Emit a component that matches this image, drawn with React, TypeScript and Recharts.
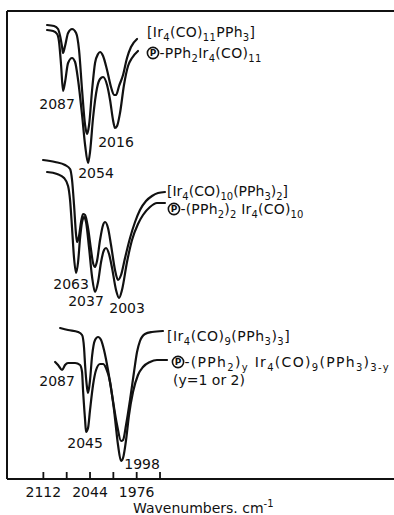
import React from 'react';
import { LineChart, Line, XAxis, YAxis, ReferenceLine, ReferenceDot } from 'recharts';

// ---- Data: wavenumber (cm^-1) and transmittance (arbitrary units, traces offset) ----
// [Ir4(CO)11PPh3]
const ir11Wn = [2106.6, 2096.4, 2090.6, 2087.6, 2084.7, 2083.3, 2080.4, 2076.0, 2070.2, 2064.3, 2060.0, 2055.6, 2051.2, 2048.3, 2045.4, 2041.0, 2036.7, 2032.3, 2029.4, 2025.0, 2019.2, 2013.4, 2009.0, 2006.1, 2001.7, 1995.9, 1990.1, 1984.3, 1975.5];
const ir11T = [454, 453, 450, 443, 432, 426, 433, 446, 450, 446, 429, 389, 354, 345, 354, 389, 416, 425, 427, 423, 409, 392, 384, 384, 393, 404, 421, 432, 440];
// (P)-PPh2Ir4(CO)11
const ir11PolyWn = [2106.6, 2097.8, 2092.0, 2089.1, 2086.2, 2083.3, 2080.4, 2076.0, 2070.2, 2065.8, 2061.4, 2055.6, 2051.2, 2046.9, 2044.0, 2039.6, 2033.8, 2029.4, 2025.0, 2019.2, 2014.8, 2010.5, 2007.6, 2004.6, 2000.3, 1994.5, 1988.6, 1982.8, 1974.1];
const ir11PolyT = [449, 448, 445, 437, 414, 388, 397, 416, 421, 417, 399, 364, 334, 316, 327, 361, 391, 400, 402, 394, 379, 359, 351, 353, 366, 394, 413, 421, 428];
// [Ir4(CO)10(PPh3)2]
const ir10Wn = [2112.4, 2094.9, 2080.4, 2073.1, 2070.2, 2067.3, 2064.3, 2062.9, 2060.0, 2057.1, 2054.2, 2051.2, 2046.9, 2042.5, 2039.6, 2036.7, 2033.8, 2029.4, 2025.0, 2022.1, 2017.8, 2013.4, 2007.6, 2003.2, 1998.8, 1993.0, 1985.7, 1978.4, 1971.2, 1962.4, 1953.7, 1944.9, 1934.8];
const ir10T = [319, 317, 314, 310, 299, 274, 244, 237, 243, 257, 265, 264, 251, 229, 216, 212, 218, 239, 254, 257, 251, 234, 209, 199, 204, 221, 241, 257, 269, 278, 283, 286, 287];
// (P)-(PPh2)2Ir4(CO)10
const ir10PolyWn = [2106.6, 2092.0, 2081.8, 2076.0, 2073.1, 2070.2, 2067.3, 2064.3, 2061.4, 2058.5, 2055.6, 2052.7, 2049.8, 2045.4, 2041.0, 2036.7, 2032.3, 2027.9, 2023.6, 2020.7, 2016.3, 2011.9, 2006.1, 2001.7, 1997.4, 1990.1, 1982.8, 1974.1, 1966.8, 1956.6, 1946.4, 1934.8];
const ir10PolyT = [307, 305, 301, 293, 279, 251, 221, 206, 217, 241, 257, 262, 257, 231, 202, 187, 197, 217, 229, 231, 225, 211, 189, 181, 189, 217, 239, 255, 264, 272, 276, 276];
// [Ir4(CO)9(PPh3)3]
const ir9Wn = [2087.6, 2076.0, 2061.4, 2055.6, 2052.7, 2051.2, 2048.3, 2046.9, 2044.0, 2041.0, 2036.7, 2032.3, 2027.9, 2023.6, 2017.8, 2011.9, 2004.6, 1998.8, 1995.9, 1991.5, 1985.7, 1979.9, 1975.5, 1971.2, 1963.9, 1953.7, 1937.7];
const ir9T = [151, 149, 147, 144, 131, 114, 91, 86, 99, 123, 139, 142, 139, 129, 109, 84, 54, 38, 39, 54, 79, 107, 127, 138, 145, 147, 148];
// (P)-(PPh2)yIr4(CO)9(PPh3)3-y
const ir9PolyWn = [2094.9, 2090.6, 2084.7, 2080.4, 2076.0, 2065.8, 2058.5, 2055.6, 2054.2, 2051.2, 2049.8, 2046.9, 2044.0, 2039.6, 2035.2, 2029.4, 2025.0, 2020.7, 2014.8, 2009.0, 2003.2, 1998.8, 1995.9, 1991.5, 1987.2, 1981.4, 1974.1, 1966.8, 1956.6, 1946.4, 1931.8];
const ir9PolyT = [117, 114, 109, 114, 116, 116, 114, 107, 89, 59, 47, 51, 69, 94, 109, 115, 115, 111, 97, 69, 34, 18, 21, 39, 64, 87, 104, 112, 117, 119, 119];

// Axis ticks
const axisTicks = [2112, 2078, 2044, 2010, 1976, 1942];
const labeledTicks = [2112, 2044, 1976];
const xDomain: [number, number] = [1601, 2165];
const yDomain: [number, number] = [0, 468];

// Peak labels (text, anchor wavenumber, anchor transmittance)
const peakText = ['2087', '2054', '2016', '2063', '2037', '2003', '2087', '2045', '1998'];
const peakWn = [2083.3, 2046.9, 2007.6, 2064.3, 2036.7, 2001.7, 2084.7, 2049.8, 1998.8];
const peakT = [388, 316, 351, 206, 187, 181, 109, 47, 18];

// Legend texts
type Seg = [string, 'n' | 'sub' | 'sup'];
const legend11: Seg[] = [['[Ir', 'n'], ['4', 'sub'], ['(CO)', 'n'], ['11', 'sub'], ['PPh', 'n'], ['3', 'sub'], [']', 'n']];
const legend11Poly: Seg[] = [['-PPh', 'n'], ['2', 'sub'], ['Ir', 'n'], ['4', 'sub'], ['(CO)', 'n'], ['11', 'sub']];
const legend10: Seg[] = [['[Ir', 'n'], ['4', 'sub'], ['(CO)', 'n'], ['10', 'sub'], ['(PPh', 'n'], ['3', 'sub'], [')', 'n'], ['2', 'sub'], [']', 'n']];
const legend10Poly: Seg[] = [['-(PPh', 'n'], ['2', 'sub'], [')', 'n'], ['2', 'sub'], [' Ir', 'n'], ['4', 'sub'], ['(CO)', 'n'], ['10', 'sub']];
const legend9: Seg[] = [['[Ir', 'n'], ['4', 'sub'], ['(CO)', 'n'], ['9', 'sub'], ['(PPh', 'n'], ['3', 'sub'], [')', 'n'], ['3', 'sub'], [']', 'n']];
const legend9Poly: Seg[] = [['-(PPh', 'n'], ['2', 'sub'], [')', 'n'], ['y', 'sub'], [' Ir', 'n'], ['4', 'sub'], ['(CO)', 'n'], ['9', 'sub'], ['(PPh', 'n'], ['3', 'sub'], [')', 'n'], ['3-y', 'sub']];
const legend9Note: Seg[] = [['(y=1 or 2)', 'n']];
const axisTitle = 'Wavenumbers. cm';

const FONT = '"DejaVu Sans", "Liberation Sans", sans-serif';
const INK = '#111';

const toData = (wn: number[], t: number[]) => wn.map((w, i) => ({ wn: w, t: t[i] }));

const seriesList = [
  { key: 'ir11', data: toData(ir11Wn, ir11T) },
  { key: 'ir11Poly', data: toData(ir11PolyWn, ir11PolyT) },
  { key: 'ir10', data: toData(ir10Wn, ir10T) },
  { key: 'ir10Poly', data: toData(ir10PolyWn, ir10PolyT) },
  { key: 'ir9', data: toData(ir9Wn, ir9T) },
  { key: 'ir9Poly', data: toData(ir9PolyWn, ir9PolyT) },
];

const renderSegs = (segs: Seg[]) => {
  let cur = 0;
  return segs.map(([s, k], i) => {
    const sh = k === 'sub' ? 3.5 : k === 'sup' ? -6 : 0;
    const dy = sh - cur;
    cur = sh;
    return (
      <tspan key={i} dy={dy} fontSize={k === 'n' ? 14 : 10}>
        {s}
      </tspan>
    );
  });
};

function Formula({ x, y, segs, circled, ls }: { x: number; y: number; segs: Seg[]; circled?: boolean; ls?: number }) {
  const start = circled ? x + 12.5 : x;
  return (
    <g>
      {circled && (
        <g>
          <circle cx={x + 6} cy={y - 5} r={5.6} fill="none" stroke={INK} strokeWidth={1.6} />
          <text x={x + 6} y={y - 1.6} fontSize={9} fontWeight="bold" textAnchor="middle" fontFamily={FONT} fill={INK}>
            P
          </text>
        </g>
      )}
      <text x={start} y={y} fontFamily={FONT} fontSize={14} fill={INK} style={{ whiteSpace: 'pre' }} letterSpacing={ls || 0}>
        {renderSegs(segs)}
      </text>
    </g>
  );
}

// layout offsets (pixels) for peak labels relative to their anchor points
const peakOffsets = [
  [-6, 13], [8, 10], [1, 14], [-5, 11], [-9, 9], [8, 10], [-5, 11], [-1, 11], [21, 3],
];

// legend layout: which series end the text hangs from, and pixel offsets
const legendItems = [
  { s: 0, segs: legend11, circled: false, dx: 10, dy: -2, ls: 0.3 },
  { s: 1, segs: legend11Poly, circled: true, dx: 9, dy: 7, ls: 0.3 },
  { s: 2, segs: legend10, circled: false, dx: 2, dy: 4, ls: 0 },
  { s: 3, segs: legend10Poly, circled: true, dx: 3, dy: 11, ls: 0.2 },
  { s: 4, segs: legend9, circled: false, dx: 4, dy: 10, ls: 0.5 },
  { s: 5, segs: legend9Poly, circled: true, dx: 5, dy: 7, ls: 1.3 },
  { s: 5, segs: legend9Note, circled: false, dx: 6, dy: 25, ls: 0 },
];

const Tick = (props: any) => {
  const { x, y, payload } = props;
  const v = payload.value;
  return (
    <g>
      <line x1={x} x2={x} y1={y} y2={y - 7} stroke={INK} strokeWidth={1.8} />
      {labeledTicks.includes(v) && (
        <text x={x} y={y + 18} textAnchor="middle" fontFamily={FONT} fontSize={14} fill={INK}>
          {v}
        </text>
      )}
    </g>
  );
};

const AxisTitle = (props: any) => {
  const vb = props.viewBox || { x: 7, y: 479 };
  return (
    <text x={vb.x + 126} y={vb.y + 34} fontFamily={FONT} fontSize={14} fill={INK}>
      {axisTitle}
      <tspan dy={-6} fontSize={10}>
        -1
      </tspan>
    </text>
  );
};

export default function App() {
  return (
    <div style={{ position: 'absolute', left: 0, top: 0, background: '#fff' }}>
      <LineChart width={394} height={515} margin={{ top: 11, right: 0, left: 7, bottom: 0 }}>
        <XAxis
          dataKey="wn"
          type="number"
          domain={xDomain}
          reversed
          allowDataOverflow
          ticks={axisTicks}
          interval={0}
          tick={<Tick />}
          tickLine={false}
          tickSize={0}
          tickMargin={0}
          axisLine={{ stroke: INK, strokeWidth: 2 }}
          height={36}
          label={<AxisTitle />}
        />
        <YAxis type="number" domain={yDomain} hide allowDataOverflow />
        <ReferenceLine y={yDomain[1]} stroke={INK} strokeWidth={2} ifOverflow="visible" />
        <ReferenceLine x={xDomain[1]} stroke={INK} strokeWidth={2} ifOverflow="visible" />
        {seriesList.map((s) => (
          <Line
            key={s.key}
            data={s.data}
            dataKey="t"
            type="monotone"
            stroke={INK}
            strokeWidth={2.2}
            strokeLinejoin="round"
            strokeLinecap="round"
            dot={false}
            activeDot={false}
            isAnimationActive={false}
          />
        ))}
        {peakText.map((txt, i) => (
          <ReferenceDot
            key={'pk' + i}
            x={peakWn[i]}
            y={peakT[i]}
            r={1}
            ifOverflow="visible"
            shape={(p: any) => (
              <text
                x={p.cx + peakOffsets[i][0]}
                y={p.cy + peakOffsets[i][1] + 5}
                textAnchor="middle"
                fontFamily={FONT}
                fontSize={14}
                fill={INK}
              >
                {txt}
              </text>
            )}
          />
        ))}
        {legendItems.map((it, i) => {
          const d = seriesList[it.s].data;
          const end = d[d.length - 1];
          return (
            <ReferenceDot
              key={'lg' + i}
              x={end.wn}
              y={end.t}
              r={1}
              ifOverflow="visible"
              shape={(p: any) => (
                <Formula x={p.cx + it.dx} y={p.cy + it.dy} segs={it.segs} circled={it.circled} ls={it.ls} />
              )}
            />
          );
        })}
      </LineChart>
    </div>
  );
}
